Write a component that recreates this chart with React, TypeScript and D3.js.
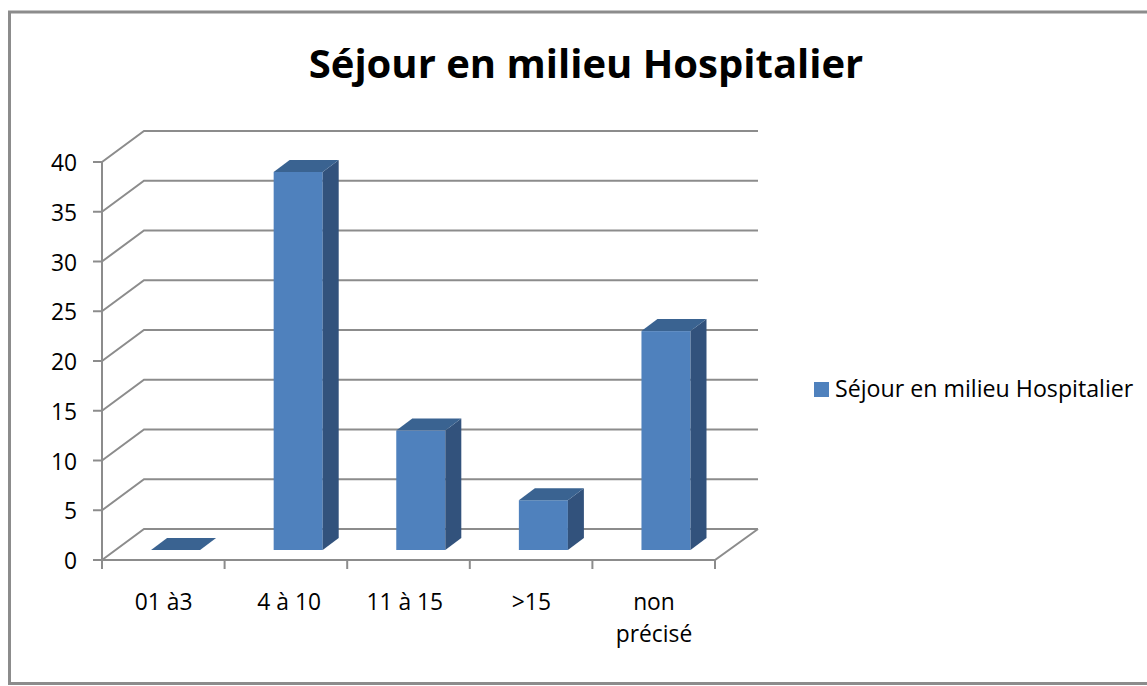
import React from 'react';
import * as d3 from 'd3';

const categories = ['01 à3', '4 à 10', '11 à 15', '>15', 'non précisé'];
const values = [0, 38, 12, 5, 22];
const yTicks = [0, 5, 10, 15, 20, 25, 30, 35, 40];
const title = 'Séjour en milieu Hospitalier';

const WIDTH = 1147;
const HEIGHT = 686;
const FONT = '"Open Sans", "Noto Sans", sans-serif';

// the 3D look: wall sits behind the axes, bars sit on the floor
const wallDx = 42;
const wallDy = -31;
const barLift = -10;
const barDx = 16;
const barDy = -12;
// labels in the original are not evenly centred
const labelNudge = [0, 3, -4, 0, 0];

const GRID = '#8c8c8c';
const FRONT = '#4f81bd';
const SIDE = '#32527c';
const TOP = '#3a6391';

const App = () => {
  const x = d3.scaleBand<string>()
    .domain(categories)
    .range([102, 715])
    .paddingInner(0.6)
    .paddingOuter(0.3)
    .align(0.667);
  const y = d3.scaleLinear().domain([0, 40]).range([560, 162]);
  const step = x.step();
  const tickXs = d3.range(categories.length + 1).map(i => 102 + i * step);
  const [xStart, xEnd] = x.range();

  return (
    <svg
      width={WIDTH}
      height={HEIGHT}
      style={{ position: 'absolute', left: 0, top: 0, fontFamily: FONT }}
    >
      <path d={`M${WIDTH},12H9.5V683.5H${WIDTH}`} fill="#fff" stroke={GRID} strokeWidth={3} />
      <text x={586} y={78} textAnchor="middle" fontSize={40} fontWeight="bold" fill="#000">{title}</text>

      {/* back wall and slanted lines */}
      {yTicks.map(t => (
        <path
          key={t}
          d={`M${xStart},${y(t)}L${xStart + wallDx},${y(t) + wallDy}H${xEnd + wallDx + 1}`}
          fill="none"
          stroke={GRID}
          strokeWidth={2}
        />
      ))}

      {/* floor edges */}
      <path
        d={`M${xStart},${y(0)}H${xEnd}L${xEnd + wallDx + 1},${y(0) + wallDy}`}
        fill="none"
        stroke={GRID}
        strokeWidth={2}
      />

      {/* axes */}
      <line x1={xStart} x2={xStart} y1={y(40)} y2={y(0) + 9} stroke={GRID} strokeWidth={2} />
      {yTicks.map(t => (
        <g key={t}>
          <line x1={xStart - 9} x2={xStart} y1={y(t)} y2={y(t)} stroke={GRID} strokeWidth={2} />
          <text x={77} y={y(t) + 9} textAnchor="end" fontSize={22.8} fill="#000">{t}</text>
        </g>
      ))}
      {tickXs.map(tx => (
        <line key={tx} x1={tx} x2={tx} y1={y(0)} y2={y(0) + 9} stroke={GRID} strokeWidth={2} />
      ))}

      {/* bars */}
      {categories.map((c, i) => {
        const bx = x(c) as number;
        const bw = x.bandwidth();
        const bottom = y(0) + barLift;
        const top = y(values[i]) + barLift;
        return (
          <g key={c}>
            {values[i] > 0 && <rect x={bx} y={top} width={bw} height={bottom - top} fill={FRONT} />}
            {values[i] > 0 && (
              <path
                d={`M${bx + bw},${top}l${barDx},${barDy}V${bottom + barDy}l${-barDx},${-barDy}Z`}
                fill={SIDE}
              />
            )}
            <path d={`M${bx},${top}l${barDx},${barDy}h${bw}l${-barDx},${-barDy}Z`} fill={TOP} />
          </g>
        );
      })}

      {/* category labels */}
      {categories.map((c, k) => {
        const cx = (x(c) as number) + x.bandwidth() / 2 - 12 + labelNudge[k];
        const lines = c === 'non précisé' ? c.split(' ') : [c];
        return (
          <text key={c} x={cx} textAnchor="middle" fontSize={22.8} fill="#000">
            {lines.map((l, i) => (
              <tspan key={l} x={cx} y={610 + i * 32}>{l}</tspan>
            ))}
          </text>
        );
      })}

      {/* legend */}
      <rect x={814} y={382} width={15} height={15} fill={FRONT} />
      <text x={835} y={397} fontSize={23.2} fill="#000">{title}</text>
    </svg>
  );
};

export default App;
